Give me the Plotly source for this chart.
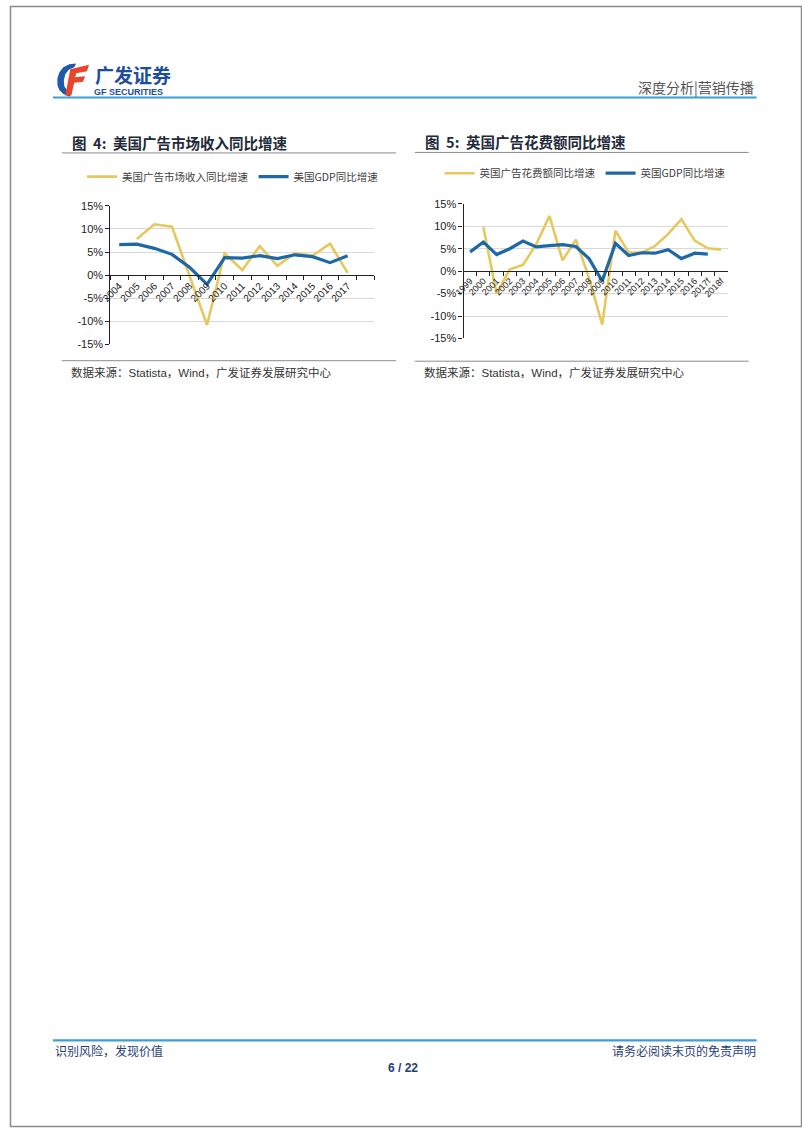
import plotly.graph_objects as go

W, H = 802, 1133

# ---------------- data ----------------
us_years = ["2004", "2005", "2006", "2007", "2008", "2009", "2010",
            "2011", "2012", "2013", "2014", "2015", "2016", "2017"]
us_ad_growth = [None, 7.8, 11.0, 10.5, 0.0, -10.8, 4.7, 1.1, 6.3, 2.0, 4.7, 4.2, 6.8, 0.5]
us_gdp_growth = [6.6, 6.7, 5.8, 4.5, 1.7, -2.0, 3.8, 3.7, 4.2, 3.6, 4.4, 4.0, 2.7, 4.2]

uk_years = ["1999", "2000", "2001", "2002", "2003", "2004", "2005", "2006", "2007",
            "2008", "2009", "2010", "2011", "2012", "2013", "2014", "2015", "2016",
            "2017f", "2018f"]
uk_ad_growth = [None, 9.8, -5.0, 0.4, 1.4, 6.0, 12.3, 2.4, 7.0, -1.5, -11.9,
                9.0, 4.2, 4.1, 5.6, 8.3, 11.6, 6.8, 5.1, 4.8]
uk_gdp_growth = [4.3, 6.5, 3.7, 5.0, 6.7, 5.4, 5.7, 5.9, 5.5, 2.8, -2.2,
                 6.2, 3.5, 4.1, 4.0, 4.8, 2.8, 4.0, 3.8, None]

y_ticks = [-15, -10, -5, 0, 5, 10, 15]
y_tick_labels = ["-15%", "-10%", "-5%", "0%", "5%", "10%", "15%"]

us_names = ["美国广告市场收入同比增速", "美国GDP同比增速"]
uk_names = ["英国广告花费额同比增速", "英国GDP同比增速"]

title1 = "图  4:  美国广告市场收入同比增速"
title2 = "图  5:  英国广告花费额同比增速"
source_text = "数据来源：Statista，Wind，广发证券发展研究中心"

# ---------------- styles ----------------
CJK = "Noto Sans CJK SC"
LAT = "Liberation Sans, Arial, Noto Sans CJK SC"
YELLOW = "#E6C85E"
BLUE = "#1E68A5"
NAVY = "#1F3F77"


def fx(x):
    return x / W


def fy(y):
    return 1 - y / H


fig = go.Figure()

fig.add_trace(go.Scatter(x=us_years, y=us_ad_growth, name=us_names[0], mode="lines",
                         line=dict(color=YELLOW, width=2.6), xaxis="x", yaxis="y",
                         legend="legend", connectgaps=False))
fig.add_trace(go.Scatter(x=us_years, y=us_gdp_growth, name=us_names[1], mode="lines",
                         line=dict(color=BLUE, width=3.2), xaxis="x", yaxis="y",
                         legend="legend"))
fig.add_trace(go.Scatter(x=uk_years, y=uk_ad_growth, name=uk_names[0], mode="lines",
                         line=dict(color=YELLOW, width=2.6), xaxis="x2", yaxis="y2",
                         legend="legend2"))
fig.add_trace(go.Scatter(x=uk_years, y=uk_gdp_growth, name=uk_names[1], mode="lines",
                         line=dict(color=BLUE, width=3.2), xaxis="x2", yaxis="y2",
                         legend="legend2"))

# plot-area geometry (pixels)
c1 = dict(x0=101.7, x1=368.6, ytop=202, ybot=342)
c2 = dict(x0=459.3, x1=726.7, ytop=200, ybot=336)


def xaxis_cfg(c, cats, nslots, fsize):
    return dict(
        domain=[fx(c["x0"]), fx(c["x1"])], type="category",
        categoryorder="array", categoryarray=cats,
        range=[-0.5, nslots - 0.5], anchor="free",
        position=(fy(c["ybot"]) + fy(c["ytop"])) / 2,
        showline=True, linecolor="#222", linewidth=1.3,
        ticks="outside", tickson="boundaries", ticklen=4, tickcolor="#222", tickwidth=1,
        tickangle=-45, tickfont=dict(family=LAT, size=fsize, color="#222"),
        showgrid=False, zeroline=False, fixedrange=True)


def yaxis_cfg(c, xa):
    return dict(
        domain=[fy(c["ybot"]), fy(c["ytop"])], range=[-15, 15],
        tickvals=y_ticks, ticktext=y_tick_labels, anchor=xa,
        showline=True, linecolor="#222", linewidth=1.3,
        ticks="outside", ticklen=4, tickcolor="#222",
        tickfont=dict(family=LAT, size=11, color="#222"),
        showgrid=True, gridcolor="#D9D9D9", gridwidth=1,
        zeroline=False, fixedrange=True)


shapes = []


def hline(y, x0, x1, color, width):
    shapes.append(dict(type="line", xref="paper", yref="paper",
                       x0=fx(x0), x1=fx(x1), y0=fy(y), y1=fy(y),
                       line=dict(color=color, width=width)))


# page border
shapes.append(dict(type="rect", xref="paper", yref="paper",
                   x0=fx(0.5), x1=fx(801.5), y0=fy(0.5), y1=fy(1132.5),
                   line=dict(color="#8A8A8A", width=1.5)))
# header / footer rules
hline(92.5, 43.5, 756, "#3A9FD6", 2.2)
hline(1045.5, 43.5, 756, "#3A9FD6", 2.2)
# title underlines and source overlines
hline(148.5, 52.5, 391, "#8C8C8C", 1)
hline(148, 410, 748, "#8C8C8C", 1)
hline(358.5, 52.5, 391, "#8C8C8C", 1)
hline(359, 410, 748, "#8C8C8C", 1)


def path_px(pts):
    s = "M " + " L ".join(f"{fx(px):.5f},{fy(py):.5f}" for px, py in pts) + " Z"
    return s


# logo: blue crescent + red F
blue_arc = [(67, 58), (60, 59), (54, 62), (50, 67), (48, 73), (48, 80), (50, 85),
            (54, 89), (60, 91.5), (63, 88), (58, 85.5), (55, 81), (54.5, 75),
            (56, 69), (59.5, 64.5), (65, 62)]
red_f = [(61, 64), (80, 59.5), (78, 66), (67, 68), (66, 72), (76, 71), (74, 76.5),
         (65, 77.5), (62, 90.5), (56, 90.5)]
shapes.append(dict(type="path", xref="paper", yref="paper", path=path_px(blue_arc),
                   fillcolor="#1F5AA8", line=dict(width=0)))
shapes.append(dict(type="path", xref="paper", yref="paper", path=path_px(red_f),
                   fillcolor="#E8452C", line=dict(width=0)))

annotations = []


def text(x, y, s, size, color, family=CJK, xanchor="left", bold=False):
    if bold:
        s = "<b>" + s + "</b>"
    annotations.append(dict(x=fx(x), y=fy(y), xref="paper", yref="paper", text=s,
                            showarrow=False, xanchor=xanchor, yanchor="middle",
                            font=dict(family=family, size=size, color=color)))


text(84, 69.5, "广发证券", 19, "#1D4E9E", bold=True)
text(83, 87, "GF SECURITIES", 9, "#1D4E9E", family=LAT, bold=True)
text(755, 82, "深度分析|营销传播", 14, "#555555", xanchor="right")

text(61, 138, title1, 14.5, "#222A3A", bold=True)
text(418, 137, title2, 14.5, "#222A3A", bold=True)

text(60, 370.5, source_text, 11.5, "#333333", family=LAT)
text(417, 370, source_text, 11.5, "#333333", family=LAT)

text(43.5, 1056, "识别风险，发现价值", 12, NAVY)
text(757, 1056, "请务必阅读末页的免责声明", 12, NAVY, xanchor="right")
text(398, 1073.5, "6 / 22", 12, NAVY, family=LAT, xanchor="center", bold=True)

legend_common = dict(orientation="h", xanchor="left", yanchor="middle",
                     font=dict(family=CJK, size=10.5, color="#404040"),
                     bgcolor="rgba(0,0,0,0)", itemwidth=30, tracegroupgap=0)

fig.update_layout(
    width=W, height=H, margin=dict(l=0, r=0, t=0, b=0),
    paper_bgcolor="white", plot_bgcolor="white",
    xaxis=xaxis_cfg(c1, us_years + [" "], 15, 10),
    yaxis=yaxis_cfg(c1, "x"),
    xaxis2=xaxis_cfg(c2, uk_years, 20, 9),
    yaxis2=yaxis_cfg(c2, "x2"),
    legend=dict(x=fx(73), y=fy(172.5), **legend_common),
    legend2=dict(x=fx(435), y=fy(169), **legend_common),
    shapes=shapes, annotations=annotations,
)

post = (
    "document.documentElement.style.margin='0';"
    "document.documentElement.style.padding='0';"
    "document.documentElement.style.overflow='hidden';"
    "document.body.style.margin='0';"
    "document.body.style.padding='0';"
    "document.body.style.overflow='hidden';"
    "var d=document.getElementById('{plot_id}');"
    "d.style.position='fixed';d.style.left='0px';d.style.top='0px';"
)

fig.write_html("out.html", config={"displayModeBar": False}, post_script=post)
